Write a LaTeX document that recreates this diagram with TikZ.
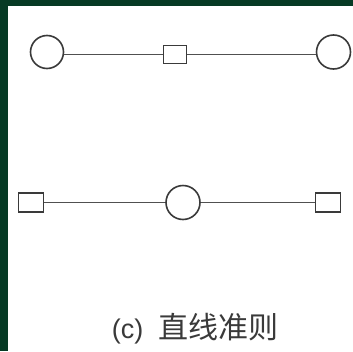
\documentclass[tikz,border=0pt]{standalone}
\usepackage{fontspec}
\newfontfamily\cjk{Noto Sans CJK SC}
\newfontfamily\lat{Liberation Sans}
\definecolor{frame}{HTML}{063A24}
\definecolor{ink}{HTML}{3A3A3A}
\definecolor{wire}{HTML}{505050}
\begin{document}
\begin{tikzpicture}[x=1pt,y=-1pt,
  ring/.style={circle,draw=ink,line width=1.6pt,fill=white,minimum size=33pt,inner sep=0pt},
  sq/.style={rectangle,draw=ink,line width=1.6pt,fill=white,minimum width=23pt,minimum height=18pt,inner sep=0pt},
  sqb/.style={sq,minimum width=25pt,minimum height=19pt},
  wirel/.style={draw=wire,line width=1.6pt}]
\useasboundingbox (0,0) rectangle (353,351);
\fill[frame] (0,0) rectangle (353,351);
\fill[white] (8,6) rectangle (353,351);
% top row
\node[sq] (s1) at (175,54.5) {};
\node[ring] (c1) at (47,52) {};
\node[ring,minimum size=34pt] (c2) at (333.5,52) {};
\draw[wirel] (s1.west) -- (s1.west -| c1.east);
\draw[wirel] (s1.east) -- (s1.east -| c2.west);
% bottom row
\node[sqb] (s2) at (31,202.5) {};
\node[ring,minimum size=34pt] (c3) at (183,202.5) {};
\node[sqb] (s3) at (328,202.5) {};
\draw[wirel] (s2) -- (c3);
\draw[wirel] (c3) -- (s3);
% caption
\node[text=ink,inner sep=0pt,anchor=center] (cap) at (195,329)
  {{\lat\fontsize{27}{30}\selectfont (c)}\hspace{15pt}{\cjk\fontsize{30}{32}\selectfont 直线准则}};
\end{tikzpicture}
\end{document}
